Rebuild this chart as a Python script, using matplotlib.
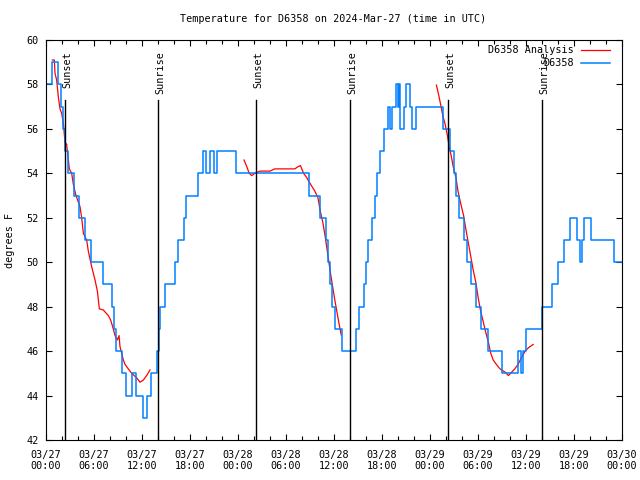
import matplotlib
matplotlib.use('Agg')
import matplotlib.pyplot as plt
from matplotlib.ticker import MultipleLocator, FixedLocator

# hours since 2024-03-27 00:00 UTC
obs_h = [0.0, 0.8, 1.55, 1.85, 2.1, 2.4, 2.8, 3.5, 4.1, 4.85, 5.65, 7.15, 8.2, 8.5, 8.8,
         9.45, 10.05, 10.7, 11.2, 12.1, 12.6, 13.1, 13.9, 14.1, 14.3, 14.9, 16.15, 16.5,
         17.2, 17.5, 18.95, 19.6, 20.0, 20.55, 20.95, 21.35, 23.8, 32.85, 34.2, 35.0,
         35.25, 35.5, 35.75, 36.1, 37.0, 38.75, 39.1, 39.7, 40.0, 40.3, 40.7, 41.1, 41.4,
         41.7, 42.2, 42.8, 43.0, 43.2, 43.8, 44.0, 44.1, 44.3, 44.7, 44.95, 45.5, 45.8,
         46.3, 49.65, 50.5, 51.05, 51.2, 51.6, 52.3, 52.65, 53.15, 53.8, 54.4, 55.3,
         57.05, 59.0, 59.35, 59.6, 60.0, 62.05, 63.3, 63.95, 64.7, 65.5, 66.4, 66.7,
         67.0, 67.3, 68.1, 71.0, 72.0]
obs_t = [58, 59, 58, 57, 56, 55, 54, 53, 52, 51, 50, 49, 48, 47, 46,
         45, 44, 45, 44, 43, 44, 45, 46, 47, 48, 49, 50, 51,
         52, 53, 54, 55, 54, 55, 54, 55, 54, 53, 52, 51,
         50, 49, 48, 47, 46, 47, 48, 49, 50, 51, 52, 53, 54,
         55, 56, 57, 56, 57, 58, 57, 58, 56, 57, 58, 57, 56,
         57, 56, 55, 54, 53, 52, 51, 50, 49, 48, 47, 46,
         45, 46, 45, 46, 47, 48, 49, 50, 51, 52, 51, 50,
         51, 52, 51, 50, 50]

# analysis, three separate pieces
an1_h = [0.79, 1.04, 1.125, 1.33, 1.54, 1.75, 1.96, 2.17, 2.375, 2.58, 2.92, 3.21, 3.42,
         3.75, 4.25, 4.46, 4.67, 5.08, 5.29, 5.71, 6.13, 6.42, 6.67, 7.17, 7.79, 8.08,
         8.33, 8.63, 8.92, 9.13, 9.25, 9.46, 9.67, 9.88, 10.29, 10.71, 11.33, 11.75,
         12.17, 12.58, 13.0]
an1_t = [59.1, 59.1, 58.5, 58.2, 57.45, 56.9, 56.7, 56.25, 55.4, 55.3, 54.2, 54.0, 53.5,
         53.0, 52.5, 52.0, 51.3, 51.0, 50.5, 49.8, 49.2, 48.7, 47.9, 47.85, 47.6, 47.4,
         47.1, 46.7, 46.5, 46.7, 46.2, 45.9, 45.6, 45.4, 45.2, 45.0, 44.8, 44.6,
         44.7, 44.9, 45.15]
an2_h = [24.75, 25.1, 25.4, 25.7, 26.1, 26.75, 28.0, 28.6, 31.1, 31.5, 31.8, 32.2, 32.6,
         33.0, 33.6, 34.0, 34.25, 34.6, 34.9, 35.2, 35.5, 35.8, 36.1, 36.4, 36.7, 36.9]
an2_t = [54.6, 54.3, 54.0, 53.9, 54.0, 54.1, 54.1, 54.2, 54.2, 54.3, 54.35, 54.0, 53.8,
         53.55, 53.2, 52.9, 52.35, 51.8, 51.15, 50.4, 49.65, 48.97, 48.3, 47.7, 47.1, 46.73]
an3_h = [48.8, 49.1, 49.3, 49.6, 49.9, 50.2, 50.4, 50.7, 50.9, 51.25, 51.5, 51.8, 52.2,
         52.5, 52.8, 53.1, 53.4, 53.75, 54.0, 54.3, 54.7, 55.0, 55.3, 55.6, 55.9, 56.3,
         56.75, 57.4, 57.8, 58.2, 58.6, 59.0, 59.5, 59.9, 60.3, 60.9]
an3_t = [57.97, 57.5, 57.15, 56.6, 56.2, 55.65, 55.2, 54.7, 54.3, 53.8, 53.2, 52.7, 52.1,
         51.45, 50.85, 50.25, 49.65, 49.05, 48.45, 47.85, 47.25, 46.8, 46.4, 45.9, 45.6, 45.4,
         45.2, 45.05, 44.9, 45.05, 45.2, 45.4, 45.75, 46.0, 46.15, 46.3]

sun_h = [2.375, 14.0, 26.25, 38.0, 50.25, 62.0]
sun_lbl = ['Sunset', 'Sunrise', 'Sunset', 'Sunrise', 'Sunset', 'Sunrise']

tick_h = list(range(0, 73, 6))
tick_lbl = ['03/27\n00:00', '03/27\n06:00', '03/27\n12:00', '03/27\n18:00',
            '03/28\n00:00', '03/28\n06:00', '03/28\n12:00', '03/28\n18:00',
            '03/29\n00:00', '03/29\n06:00', '03/29\n12:00', '03/29\n18:00',
            '03/30\n00:00']

plt.rcParams['font.family'] = 'DejaVu Sans Mono'
plt.rcParams['font.size'] = 7.3

fig = plt.figure(figsize=(6.4, 4.8), dpi=100)
ax = fig.add_axes([46/640, 40/480, 576/640, 400/480])

red = '#ff0000'
blue = '#0080ff'
ax.plot(an1_h, an1_t, color=red, lw=0.9)
ax.plot(an2_h, an2_t, color=red, lw=0.9)
ax.plot(an3_h, an3_t, color=red, lw=0.9)
ax.plot(obs_h, obs_t, color=blue, lw=1.1, drawstyle='steps-post')

for h, s in zip(sun_h, sun_lbl):
    ax.axvline(h, ymin=0, ymax=0.85, color='black', lw=1.0)
    ax.text(h + 0.3, 0.9725, s, transform=ax.get_xaxis_transform(), rotation=90,
            ha='center', va='top')

ax.set_xlim(0, 72)
ax.set_ylim(42, 60)
ax.xaxis.set_major_locator(FixedLocator(tick_h))
ax.set_xticklabels(tick_lbl)
ax.xaxis.set_minor_locator(MultipleLocator(2))
ax.yaxis.set_major_locator(MultipleLocator(2))
ax.tick_params(which='both', direction='in', top=True, right=True, width=0.8)
ax.tick_params(which='major', length=4)
ax.tick_params(which='minor', length=3)
ax.tick_params(axis='x', pad=7)
ax.tick_params(axis='y', pad=5)
for sp in ax.spines.values():
    sp.set_linewidth(0.8)

# legend drawn by hand, gnuplot style
ax.text(0.9167, 0.975, 'D6358 Analysis', transform=ax.transAxes, ha='right', va='center')
ax.plot([0.929, 0.979], [0.975, 0.975], color=red, lw=0.9, transform=ax.transAxes)
ax.text(0.9167, 0.9425, 'D6358', transform=ax.transAxes, ha='right', va='center')
ax.plot([0.929, 0.979], [0.9425, 0.9425], color=blue, lw=1.1, transform=ax.transAxes)

fig.text(333/640, 1 - 19/480, 'Temperature for D6358 on 2024-Mar-27 (time in UTC)',
         ha='center', va='center')
fig.text(10/640, 0.5, 'degrees F', rotation=90, ha='center', va='center')

fig.savefig('out.png', dpi=100)
